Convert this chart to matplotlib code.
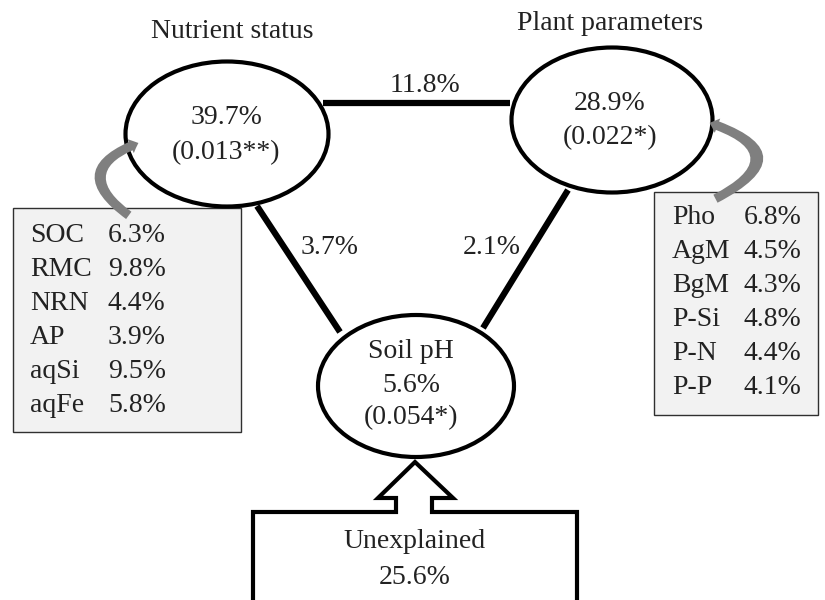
import matplotlib
matplotlib.use("Agg")
import matplotlib.pyplot as plt
from matplotlib.patches import Ellipse, Rectangle, Polygon, FancyArrowPatch

plt.rcParams['font.family'] = ['Liberation Serif', 'DejaVu Serif']
plt.rcParams['text.color'] = '#222222'

# variance partitioning values
node_names = ["Nutrient status", "Plant parameters", "Soil pH"]
node_share = ["39.7%", "28.9%", "5.6%"]
node_p = ["(0.013**)", "(0.022*)", "(0.054*)"]
shared = {"nutrient-plant": "11.8%", "nutrient-ph": "3.7%", "plant-ph": "2.1%"}
unexplained = "25.6%"

nutrient_vars = ["SOC", "RMC", "NRN", "AP", "aqSi", "aqFe"]
nutrient_vals = ["6.3%", "9.8%", "4.4%", "3.9%", "9.5%", "5.8%"]
plant_vars = ["Pho", "AgM", "BgM", "P-Si", "P-N", "P-P"]
plant_vals = ["6.8%", "4.5%", "4.3%", "4.8%", "4.4%", "4.1%"]

FS = 20
fig = plt.figure(figsize=(8.25, 6), dpi=100)
ax = fig.add_axes([0, 0, 1, 1])
ax.set_xlim(0, 825)
ax.set_ylim(600, 0)
ax.axis('off')

# ellipses (pixel layout)
centers = [(227, 134), (612, 120), (416, 386)]
sizes = [(203, 145), (201, 145), (196, 142)]
for (cx, cy), (w, h) in zip(centers, sizes):
    ax.add_patch(Ellipse((cx, cy), w, h, facecolor='white', edgecolor='black', lw=3, zorder=3))

# node titles / contents
ax.text(232, 32, node_names[0], fontsize=FS, ha='center', va='center')
ax.text(610, 23, node_names[1], fontsize=FS, ha='center', va='center')
ax.text(226, 118, node_share[0], fontsize=FS, ha='center', va='center', zorder=4)
ax.text(226, 153, node_p[0], fontsize=FS, ha='center', va='center', zorder=4)
ax.text(610, 103, node_share[1], fontsize=FS, ha='center', va='center', zorder=4)
ax.text(610, 138, node_p[1], fontsize=FS, ha='center', va='center', zorder=4)
ax.text(411, 352, node_names[2], fontsize=FS, ha='center', va='center', zorder=4)
ax.text(411, 385, node_share[2], fontsize=FS, ha='center', va='center', zorder=4)
ax.text(411, 418, node_p[2], fontsize=FS, ha='center', va='center', zorder=4)

# connecting lines
ax.plot([323, 510], [103, 103], color='black', lw=4.5, solid_capstyle='butt', zorder=2)
ax.plot([257, 340], [206, 332], color='black', lw=4.5, solid_capstyle='butt', zorder=2)
ax.plot([568, 483], [190, 328], color='black', lw=4.5, solid_capstyle='butt', zorder=2)
ax.text(425, 85, shared["nutrient-plant"], fontsize=FS, ha='center', va='center')
ax.text(330, 247, shared["nutrient-ph"], fontsize=FS, ha='center', va='center')
ax.text(492, 247, shared["plant-ph"], fontsize=FS, ha='center', va='center')

# variable boxes
ax.add_patch(Rectangle((13, 208), 228, 224, facecolor='#f2f2f2', edgecolor='#303030', lw=1, zorder=1))
for i, (v, val) in enumerate(zip(nutrient_vars, nutrient_vals)):
    y = 236 + i * 34
    ax.text(30, y, v, fontsize=FS, ha='left', va='center', zorder=4)
    ax.text(108, y, val, fontsize=FS, ha='left', va='center', zorder=4)

ax.add_patch(Rectangle((654, 192), 164, 223, facecolor='#f2f2f2', edgecolor='#303030', lw=1, zorder=1))
for i, (v, val) in enumerate(zip(plant_vars, plant_vals)):
    y = 218 + i * 34
    ax.text(672, y, v, fontsize=FS, ha='left', va='center', zorder=4)
    ax.text(744, y, val, fontsize=FS, ha='left', va='center', zorder=4)

# curved grey arrows
ax.add_patch(FancyArrowPatch((131, 217), (141, 142), connectionstyle="arc3,rad=-0.95",
                             arrowstyle="simple,head_length=6,head_width=11,tail_width=6.5",
                             color='#7f7f7f', lw=0, zorder=5))
ax.add_patch(FancyArrowPatch((713, 200), (707, 122), connectionstyle="arc3,rad=1.2",
                             arrowstyle="simple,head_length=6,head_width=11,tail_width=6.5",
                             color='#7f7f7f', lw=0, zorder=5))

# unexplained box with arrow
outline = [(253, 620), (253, 512), (396, 512), (396, 498), (378, 498), (415, 462),
           (453, 498), (432, 498), (432, 512), (577, 512), (577, 620)]
ax.add_patch(Polygon(outline, closed=False, facecolor='white', edgecolor='black', lw=3,
                     joinstyle='miter', zorder=2))
ax.text(415, 542, "Unexplained", fontsize=FS, ha='center', va='center')
ax.text(415, 577, unexplained, fontsize=FS, ha='center', va='center')

fig.savefig("out.png", dpi=100, facecolor='white')
